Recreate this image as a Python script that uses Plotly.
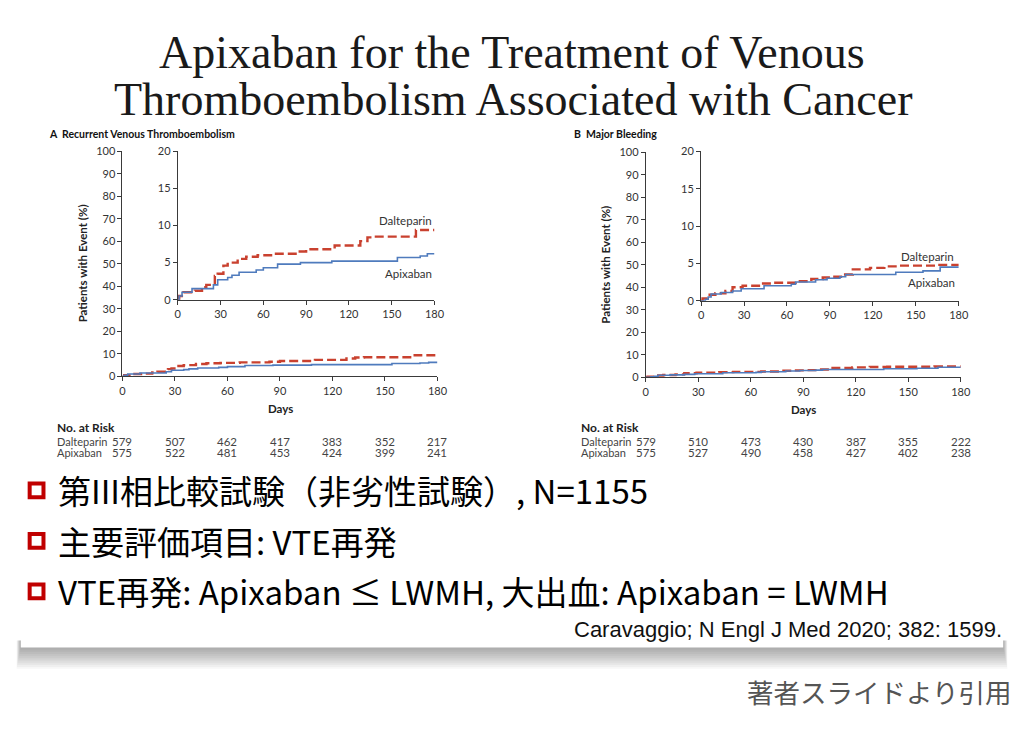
import plotly.graph_objects as go

W, H = 1029, 732

# ---------------- data ----------------
days_ticks = [0, 30, 60, 90, 120, 150, 180]

# Panel A: Recurrent venous thromboembolism (cumulative %, step)
a_dal_days = [0, 1, 4, 12, 17, 20, 26, 28, 32, 35, 42, 48, 56, 67, 84, 90, 110, 128, 133, 138, 167, 180]
a_dal_vals = [0, 0.5, 1.0, 1.2, 1.7, 2.0, 3.2, 3.5, 4.6, 5.0, 5.5, 5.8, 6.0, 6.2, 6.5, 6.8, 7.3, 7.9, 8.4, 8.5, 9.4, 9.4]
a_api_days = [0, 1, 3, 10, 25, 28, 35, 38, 43, 55, 60, 70, 86, 108, 154, 170, 175, 180]
a_api_vals = [0, 0.5, 1.0, 1.5, 2.0, 2.7, 3.0, 3.3, 3.7, 4.0, 4.3, 4.8, 5.0, 5.2, 5.7, 5.9, 6.2, 6.2]

# Panel B: Major bleeding
b_dal_days = [0, 1, 6, 10, 17, 22, 29, 42, 50, 66, 77, 85, 92, 99, 106, 118, 128, 138, 165, 180]
b_dal_vals = [0, 0.3, 0.8, 1.0, 1.3, 1.8, 2.0, 2.3, 2.4, 2.6, 2.9, 3.1, 3.2, 3.5, 4.2, 4.4, 4.6, 4.7, 4.8, 4.8]
b_api_days = [0, 3, 5, 7, 14, 22, 28, 44, 63, 66, 80, 88, 97, 101, 136, 155, 167, 180]
b_api_vals = [0, 0.2, 0.5, 0.9, 1.1, 1.3, 1.6, 2.0, 2.2, 2.5, 2.8, 3.0, 3.2, 3.5, 3.8, 4.0, 4.5, 4.5]

a_risk_dal = [579, 507, 462, 417, 383, 352, 217]
a_risk_api = [575, 522, 481, 453, 424, 399, 241]
b_risk_dal = [579, 510, 473, 430, 387, 355, 222]
b_risk_api = [575, 527, 490, 458, 427, 402, 238]

title_lines = ["Apixaban for the Treatment of Venous",
               "Thromboembolism Associated with Cancer"]
panel_titles = ["A&nbsp;&nbsp;Recurrent Venous Thromboembolism",
                "B&nbsp;&nbsp;Major Bleeding"]
bullets = ["第III相比較試験（非劣性試験）, N=1155",
           "主要評価項目: VTE再発",
           "VTE再発: Apixaban ≤ LWMH, 大出血: Apixaban = LWMH"]
citation = "Caravaggio; N Engl J Med 2020; 382: 1599."
footer = "著者スライドより引用"

RED = "#c9412f"
BLUE = "#4f7bbd"
AX = "#3a3a3a"
SANS = "Lato, Open Sans, sans-serif"


def X(px):
    return px / W


def Y(py):
    return 1 - py / H


fig = go.Figure()

# traces: (xaxis, yaxis, days, vals, color, dashed)
panels = [
    ("x", "y", a_dal_days, a_dal_vals, RED, True),
    ("x", "y", a_api_days, a_api_vals, BLUE, False),
    ("x2", "y2", a_dal_days, a_dal_vals, RED, True),
    ("x2", "y2", a_api_days, a_api_vals, BLUE, False),
    ("x3", "y3", b_dal_days, b_dal_vals, RED, True),
    ("x3", "y3", b_api_days, b_api_vals, BLUE, False),
    ("x4", "y4", b_dal_days, b_dal_vals, RED, True),
    ("x4", "y4", b_api_days, b_api_vals, BLUE, False),
]
for xa, ya, d, v, c, dashed in panels:
    fig.add_trace(go.Scatter(
        x=d, y=v, xaxis=xa, yaxis=ya, mode="lines",
        line=dict(color=c, width=2.4 if dashed else 1.6, shape="hv",
                  dash="9px,4px" if dashed else "solid"),
        showlegend=False, hoverinfo="skip"))


def axis(domain, rng, tickvals, anchor):
    return dict(domain=domain, range=rng, tickvals=tickvals, anchor=anchor,
                showline=True, linecolor=AX, linewidth=1, ticks="outside",
                ticklen=4, tickcolor=AX, tickwidth=1, showgrid=False,
                zeroline=False, tickfont=dict(family=SANS, size=11, color="#333"),
                fixedrange=True)


fig.update_layout(
    xaxis=axis([X(121), X(440)], [0, 180], days_ticks, "y"),
    yaxis=axis([Y(376), Y(147)], [0, 100], list(range(0, 101, 10)), "x"),
    xaxis2=axis([X(177), X(437)], [0, 180], days_ticks, "y2"),
    yaxis2=axis([Y(298), Y(147)], [0, 20], [0, 5, 10, 15, 20], "x2"),
    xaxis3=axis([X(651), X(970)], [0, 180], days_ticks, "y3"),
    yaxis3=axis([Y(377), Y(148)], [0, 100], list(range(0, 101, 10)), "x3"),
    xaxis4=axis([X(707), X(968)], [0, 180], days_ticks, "y4"),
    yaxis4=axis([Y(299), Y(147)], [0, 20], [0, 5, 10, 15, 20], "x4"),
)

ann = []


def txt(x, y, text, size, color="#222", family=SANS, xanchor="center",
        yanchor="middle", xref="paper", yref="paper", textangle=0):
    ann.append(dict(x=x, y=y, text=text, xref=xref, yref=yref, showarrow=False,
                    xanchor=xanchor, yanchor=yanchor, textangle=textangle,
                    font=dict(family=family, size=size, color=color)))


# title
txt(X(516), Y(46), title_lines[0], 46, "#1a1a1a", "Liberation Serif, serif")
txt(X(517), Y(94), title_lines[1], 46, "#1a1a1a", "Liberation Serif, serif")

# panel headings
txt(X(45), Y(129), "<b>" + panel_titles[0] + "</b>", 10.5, "#111", xanchor="left")
txt(X(576), Y(129), "<b>" + panel_titles[1] + "</b>", 10.5, "#111", xanchor="left")

# y titles
txt(X(80), Y(261), "<b>Patients with Event (%)</b>", 11.5, "#222", textangle=-90)
txt(X(610), Y(262), "<b>Patients with Event (%)</b>", 11.5, "#222", textangle=-90)

# Days
txt(X(281), Y(409), "<b>Days</b>", 11.5, "#222")
txt(X(811), Y(410), "<b>Days</b>", 11.5, "#222")

# inset curve labels
txt(160, 10.7, "Dalteparin", 11.5, "#333", xref="x2", yref="y2")
txt(162, 3.6, "Apixaban", 11.5, "#333", xref="x2", yref="y2")
txt(158, 5.9, "Dalteparin", 11.5, "#333", xref="x4", yref="y4")
txt(161, 2.4, "Apixaban", 11.5, "#333", xref="x4", yref="y4")

# risk tables
for (xr, left, dal, api) in [("x", 53, a_risk_dal, a_risk_api),
                             ("x3", 583, b_risk_dal, b_risk_api)]:
    txt(X(left), Y(428), "<b>No. at Risk</b>", 12, "#222", xanchor="left")
    txt(X(left), Y(442), "Dalteparin", 11, "#444", xanchor="left")
    txt(X(left), Y(454), "Apixaban", 11, "#444", xanchor="left")
    for d, n1, n2 in zip(days_ticks, dal, api):
        txt(d, Y(442), str(n1), 11.5, "#444", xref=xr)
        txt(d, Y(454), str(n2), 11.5, "#444", xref=xr)

# bullets
for yc, b in zip([492, 543.5, 595], bullets):
    txt(X(54), Y(yc), b, 33, "#000", "Noto Sans CJK JP, sans-serif", xanchor="left")

txt(X(1014), Y(634), citation, 22, "#111", "Liberation Sans, sans-serif", xanchor="right")
txt(X(1023), Y(697), footer, 26.5, "#555", "Noto Sans CJK JP, sans-serif", xanchor="right")

fig.update_layout(annotations=ann)

# shapes: shadow, card, bullet squares
shapes = []
for k in range(1, 13):
    shapes.append(dict(type="rect", xref="paper", yref="paper", layer="below",
                       x0=X(18 - k * 0.35), x1=X(1013 + k * 0.35),
                       y0=Y(645), y1=Y(651 + k * 1.9),
                       fillcolor="rgba(0,0,0,0.03)", line=dict(width=0)))
shapes.append(dict(type="rect", xref="paper", yref="paper", layer="below",
                   x0=X(18), x1=X(1013), y0=Y(27), y1=Y(652),
                   fillcolor="white", line=dict(width=0)))
for yc in [492, 543.5, 595]:
    shapes.append(dict(type="rect", xref="paper", yref="paper",
                       x0=X(27), x1=X(41), y0=Y(yc - 7), y1=Y(yc + 7),
                       fillcolor="white", line=dict(color="#c00000", width=4)))

fig.update_layout(shapes=shapes, width=W, height=H,
                  margin=dict(l=0, r=0, t=0, b=0),
                  paper_bgcolor="white", plot_bgcolor="rgba(0,0,0,0)")

fig.write_html("out.html")
